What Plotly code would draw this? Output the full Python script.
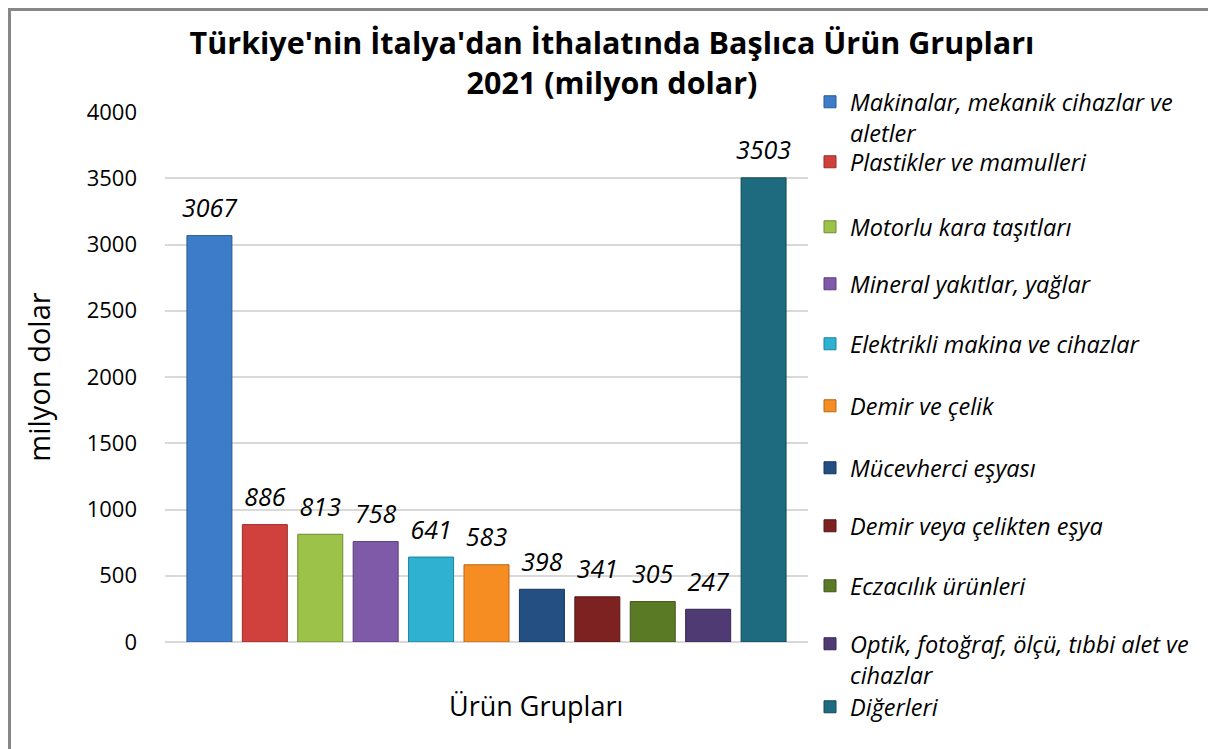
import plotly.graph_objects as go

# Türkiye'nin İtalya'dan ithalatı, 2021 (milyon dolar)
urunler = [
    "Makinalar, mekanik cihazlar ve<br>aletler",
    "Plastikler ve mamulleri",
    "Motorlu kara taşıtları",
    "Mineral yakıtlar, yağlar",
    "Elektrikli makina ve cihazlar",
    "Demir ve çelik",
    "Mücevherci eşyası",
    "Demir veya çelikten eşya",
    "Eczacılık ürünleri",
    "Optik, fotoğraf, ölçü, tıbbi alet ve<br>cihazlar",
    "Diğerleri",
]
degerler = [3067, 886, 813, 758, 641, 583, 398, 341, 305, 247, 3503]
renkler = [
    "#3d7cc9", "#d0413e", "#9cc24a", "#7f5aa8", "#2fb2d2", "#f68d22",
    "#234f82", "#7d2220", "#5b7a26", "#4f3a73", "#1e6b7f",
]
kenar = [
    "#2a5a94", "#9a2e2c", "#6f8c33", "#5b3f7a", "#1f8199", "#b8661a",
    "#17365c", "#571716", "#3f561a", "#352650", "#134b5a",
]
kategori = ["Ürün Grupları"]

# sayfa gövdesinin 8px kenar boşluğu: ekran koordinatlarını figüre çevir
OFF = 8
W, H = 1216 - OFF, 749 - OFF
L, T = 165 - OFF, 112 - OFF
R = W - (808 - OFF)
B = H - (642 - OFF)
PW, PH = W - L - R, H - T - B


def px_x(px):
    return (px - OFF - L) / PW


def px_y(py):
    return (H - B - (py - OFF)) / PH


def cx(px):
    return (px - OFF) / W


def cy(py):
    return 1 - (py - OFF) / H


FONT = "Open Sans"

# legend satırlarının (ilk satır) dikey merkezleri, ekran pikseli
leg_mid = [101, 161, 226, 283, 343, 405, 467, 525, 585, 643, 706]

fig = go.Figure()
for i, (ad, v) in enumerate(zip(urunler, degerler)):
    leg = "legend" if i == 0 else f"legend{i + 1}"
    fig.add_trace(go.Bar(
        x=kategori, y=[v], name=ad,
        marker=dict(color=renkler[i], line=dict(color=kenar[i], width=1)),
        legend=leg,
    ))
    fig.update_layout({leg: dict(
        xref="container", yref="container",
        x=cx(810), xanchor="left",
        y=cy(leg_mid[i] - 21), yanchor="top",
        valign="top",
        font=dict(family=FONT, size=23.5, color="#000000", style="italic"),
        bgcolor="rgba(0,0,0,0)", borderwidth=0,
        tracegroupgap=0, itemwidth=30,
    )})

# etiketler: gruplanmış scatter ile çubukların üstüne
for i, v in enumerate(degerler):
    fig.add_trace(go.Scatter(
        x=kategori, y=[v], mode="markers+text",
        text=[str(v)], textposition="top center",
        marker=dict(size=18, opacity=0),
        textfont=dict(family=FONT, size=25, color="#000000", style="italic"),
        showlegend=False, hoverinfo="skip", cliponaxis=False,
    ))

fig.update_layout(
    width=W, height=H,
    margin=dict(l=L, r=R, t=T, b=B),
    paper_bgcolor="white", plot_bgcolor="white",
    barmode="group", bargap=0.052, bargroupgap=0.188,
    scattermode="group", scattergap=0.052,
    title=dict(
        text="<b>Türkiye'nin İtalya'dan İthalatında Başlıca Ürün Grupları<br>2021 (milyon dolar)</b>",
        x=cx(612), xanchor="center", xref="container",
        y=1 - 46 / H, yanchor="middle", yref="container",
        font=dict(family=FONT, size=30.5, color="#000000"),
        automargin=False,
    ),
    xaxis=dict(showticklabels=False, showgrid=False, zeroline=False,
               showline=False, ticks="", automargin=False),
    yaxis=dict(
        range=[0, 4000], dtick=500, tick0=0, automargin=False,
        showgrid=True, gridcolor="#d9d9d9", gridwidth=1.5,
        zeroline=True, zerolinecolor="#d9d9d9", zerolinewidth=1.5,
        showline=False, ticks="", ticklabelstandoff=27,
        tickfont=dict(family=FONT, size=22, color="#000000"),
        title=dict(text="milyon dolar", standoff=27,
                   font=dict(family=FONT, size=29, color="#000000")),
    ),
    annotations=[dict(
        text="Ürün Grupları", xref="paper", yref="paper",
        x=px_x(536), y=px_y(705), xanchor="center", yanchor="middle",
        showarrow=False, font=dict(family=FONT, size=27, color="#000000"),
    )],
    shapes=[
        dict(type="line", xref="paper", yref="paper",
             x0=px_x(9), x1=px_x(9), y0=px_y(OFF - 3), y1=px_y(760),
             line=dict(color="#878787", width=4)),
        dict(type="line", xref="paper", yref="paper",
             x0=px_x(OFF - 3), x1=px_x(1230), y0=px_y(OFF + 1), y1=px_y(OFF + 1),
             line=dict(color="#878787", width=4)),
    ],
)

fig.write_html("out.html")
